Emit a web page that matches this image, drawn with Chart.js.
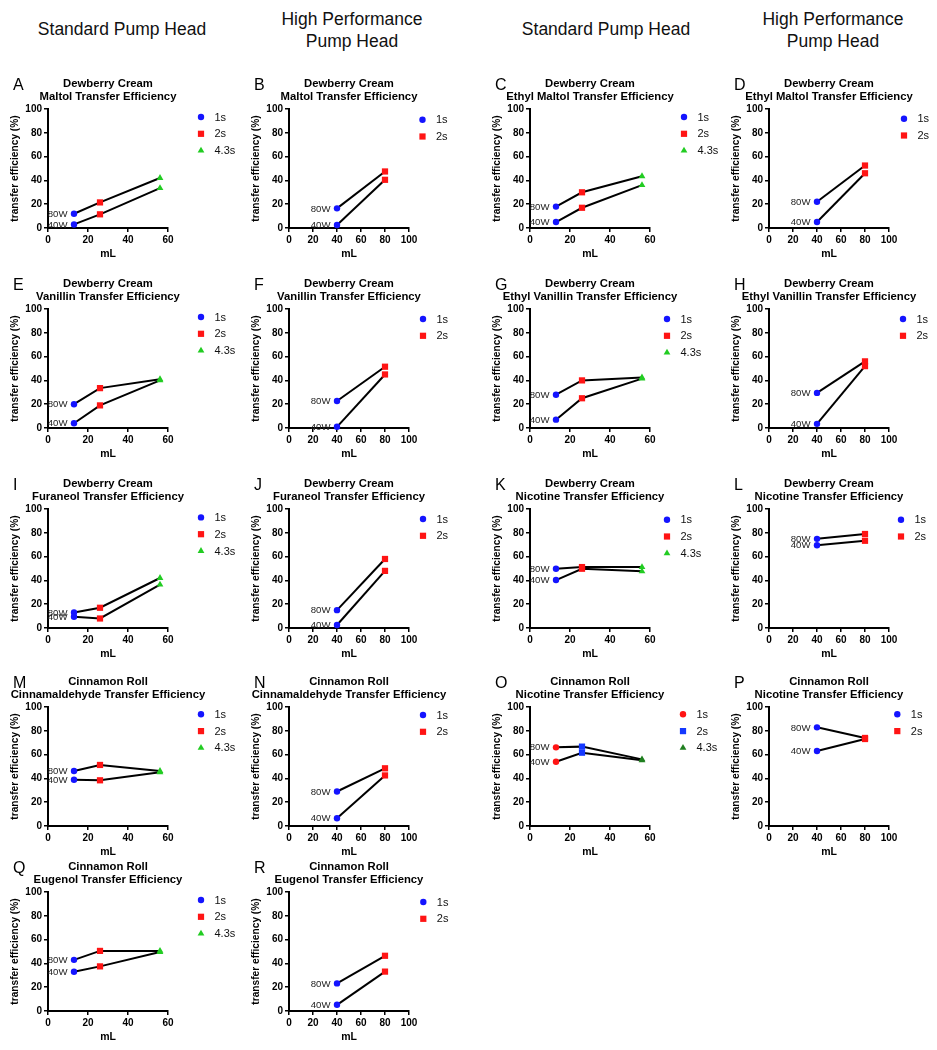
<!DOCTYPE html>
<html><head><meta charset="utf-8">
<script src="https://cdn.jsdelivr.net/npm/chart.js@4.4.1/dist/chart.umd.min.js"></script>
<style>
html,body{margin:0;padding:0;background:#fff;}
body{width:937px;height:1050px;overflow:hidden;position:relative;font-family:'Liberation Sans',Arial,sans-serif;}
.hdr{position:absolute;text-align:center;font-size:17.5px;line-height:22px;color:#111;width:240px;margin-left:-120px;}
canvas{position:absolute;}
</style></head><body>
<div class="hdr" style="left:122px;top:18px">Standard Pump Head</div>
<div class="hdr" style="left:352px;top:8px">High Performance<br>Pump Head</div>
<div class="hdr" style="left:606px;top:18px">Standard Pump Head</div>
<div class="hdr" style="left:833px;top:8px">High Performance<br>Pump Head</div>
<script>
// ---------- data ----------
const xStandard = [13, 26, 56];          // mL for 1s, 2s, 4.3s
const xHighPerf = [40, 80];              // mL for 1s, 2s
const seriesStandard = ['1s', '2s', '4.3s'];
const seriesHighPerf = ['1s', '2s'];
const powerLabels = ['80W', '40W'];
const yTicks = [0, 20, 40, 60, 80, 100];
const xTicksStandard = [0, 20, 40, 60];
const xTicksHighPerf = [0, 20, 40, 60, 80, 100];

const A_80W = [12, 21.5, 42];   const A_40W = [3, 11.5, 33.5];
const B_80W = [16.5, 47.5];     const B_40W = [2.5, 40.5];
const C_80W = [18, 30, 43.5];   const C_40W = [5, 17, 36];
const D_80W = [22, 52.5];       const D_40W = [5, 46];
const E_80W = [20, 33.5, 41];   const E_40W = [4, 19, 40];
const F_80W = [22.7, 51.5];     const F_40W = [1, 45];
const G_80W = [28, 40, 42.5];   const G_40W = [7, 25, 41.5];
const H_80W = [29.5, 56];       const H_40W = [3.5, 52];
const I_80W = [13, 17, 42];     const I_40W = [9.5, 8, 36.5];
const J_80W = [15, 58];         const J_40W = [2.5, 48];
const K_80W = [49.8, 51.2, 51.2]; const K_40W = [40.3, 49.8, 47.6];
const L_80W = [74.9, 79];       const L_40W = [69.6, 73.3];
const M_80W = [46.2, 51.3, 46.2]; const M_40W = [38.9, 38.4, 45.1];
const N_80W = [29, 48.5];       const N_40W = [6.5, 42.5];
const O_80W = [66.1, 66.7, 56]; const O_40W = [54, 61.6, 55.2];
const P_80W = [82.9, 74];       const P_40W = [63, 73.1];
const Q_80W = [43, 50.5, 50.5]; const Q_40W = [33, 37.5, 49.5];
const R_80W = [23.2, 46.4];     const R_40W = [5.2, 33.1];

const colorsMain = ['#1414ff', '#ff1414', '#22cc22'];
const colorsAlt = ['#ff1414', '#1438ff', '#1f7f1f'];

// ---------- layout ----------
const colX = [48, 289, 530, 769];
const panels = [
  {id:'A', c:0, top:109, std:true,  t1:'Dewberry Cream', t2:'Maltol Transfer Efficiency', v80:A_80W, v40:A_40W, col:colorsMain, lx:33, ly:8},
  {id:'B', c:1, top:109, std:false, t1:'Dewberry Cream', t2:'Maltol Transfer Efficiency', v80:B_80W, v40:B_40W, col:colorsMain, lx:13.5, ly:10.7},
  {id:'C', c:2, top:109, std:true,  t1:'Dewberry Cream', t2:'Ethyl Maltol Transfer Efficiency', v80:C_80W, v40:C_40W, col:colorsMain, lx:34, ly:8},
  {id:'D', c:3, top:109, std:false, t1:'Dewberry Cream', t2:'Ethyl Maltol Transfer Efficiency', v80:D_80W, v40:D_40W, col:colorsMain, lx:15, ly:9.7},
  {id:'E', c:0, top:309, std:true,  t1:'Dewberry Cream', t2:'Vanillin Transfer Efficiency', v80:E_80W, v40:E_40W, col:colorsMain, lx:33, ly:8},
  {id:'F', c:1, top:309, std:false, t1:'Dewberry Cream', t2:'Vanillin Transfer Efficiency', v80:F_80W, v40:F_40W, col:colorsMain, lx:14, ly:10},
  {id:'G', c:2, top:309, std:true,  t1:'Dewberry Cream', t2:'Ethyl Vanillin Transfer Efficiency', v80:G_80W, v40:G_40W, col:colorsMain, lx:17, ly:10},
  {id:'H', c:3, top:309, std:false, t1:'Dewberry Cream', t2:'Ethyl Vanillin Transfer Efficiency', v80:H_80W, v40:H_40W, col:colorsMain, lx:14, ly:10},
  {id:'I', c:0, top:509, std:true,  t1:'Dewberry Cream', t2:'Furaneol Transfer Efficiency', v80:I_80W, v40:I_40W, col:colorsMain, lx:33, ly:8.4},
  {id:'J', c:1, top:509, std:false, t1:'Dewberry Cream', t2:'Furaneol Transfer Efficiency', v80:J_80W, v40:J_40W, col:colorsMain, lx:14, ly:10},
  {id:'K', c:2, top:509, std:true,  t1:'Dewberry Cream', t2:'Nicotine Transfer Efficiency', v80:K_80W, v40:K_40W, col:colorsMain, lx:17, ly:10.7},
  {id:'L', c:3, top:509, std:false, t1:'Dewberry Cream', t2:'Nicotine Transfer Efficiency', v80:L_80W, v40:L_40W, col:colorsMain, lx:12, ly:10.7},
  {id:'M', c:0, top:707, std:true,  t1:'Cinnamon Roll', t2:'Cinnamaldehyde Transfer Efficiency', v80:M_80W, v40:M_40W, col:colorsMain, lx:33, ly:7.3},
  {id:'N', c:1, top:707, std:false, t1:'Cinnamon Roll', t2:'Cinnamaldehyde Transfer Efficiency', v80:N_80W, v40:N_40W, col:colorsMain, lx:14, ly:8},
  {id:'O', c:2, top:707, std:true,  t1:'Cinnamon Roll', t2:'Nicotine Transfer Efficiency', v80:O_80W, v40:O_40W, col:colorsAlt, lx:33, ly:7.3},
  {id:'P', c:3, top:707, std:false, t1:'Cinnamon Roll', t2:'Nicotine Transfer Efficiency', v80:P_80W, v40:P_40W, col:colorsMain, lx:8.3, ly:7.3},
  {id:'Q', c:0, top:892, std:true,  t1:'Cinnamon Roll', t2:'Eugenol Transfer Efficiency', v80:Q_80W, v40:Q_40W, col:colorsMain, lx:33, ly:8},
  {id:'R', c:1, top:892, std:false, t1:'Cinnamon Roll', t2:'Eugenol Transfer Efficiency', v80:R_80W, v40:R_40W, col:colorsMain, lx:14.3, ly:10}
];

const FONT = "'Liberation Sans', Arial, Helvetica, sans-serif";
Chart.defaults.font.family = FONT;
Chart.defaults.color = '#000';

const styles = ['circle', 'rect', 'triangle'];
const radii = [3.2, 4.4, 3.9];

function drawMarker(ctx, style, x, y, r, color) {
  ctx.save();
  ctx.fillStyle = color;
  ctx.beginPath();
  if (style === 'circle') {
    ctx.arc(x, y, r, 0, Math.PI * 2);
  } else if (style === 'rect') {
    const s = r * Math.SQRT1_2;
    ctx.rect(x - s, y - s, 2 * s, 2 * s);
  } else {
    let a = 0;
    ctx.moveTo(x + Math.sin(a) * r, y - Math.cos(a) * r);
    a += Math.PI * 2 / 3;
    ctx.lineTo(x + Math.sin(a) * r, y - Math.cos(a) * r);
    a += Math.PI * 2 / 3;
    ctx.lineTo(x + Math.sin(a) * r, y - Math.cos(a) * r);
    ctx.closePath();
  }
  ctx.fill();
  ctx.restore();
}

function decor(p, nSeries) {
  return {
    id: 'decor' + p.id,
    afterDraw(chart) {
      const ctx = chart.ctx, a = chart.chartArea;
      const cx = (a.left + a.right) / 2;
      ctx.save();
      // panel letter
      ctx.fillStyle = '#000';
      ctx.font = '16px ' + FONT;
      ctx.textAlign = 'left';
      ctx.textBaseline = 'alphabetic';
      ctx.fillText(p.id, a.left - 35, a.top - 19.5);
      // titles
      ctx.font = 'bold 11.3px ' + FONT;
      ctx.textAlign = 'center';
      ctx.textBaseline = 'middle';
      ctx.fillText(p.t1, cx, a.top - 25.5);
      ctx.fillText(p.t2, cx, a.top - 11.8);
      // legend
      const ds = chart.data.datasets;
      ctx.font = '11px ' + FONT;
      ctx.textAlign = 'left';
      for (let i = 0; i < nSeries; i++) {
        const lx = a.right + p.lx, ly = a.top + p.ly + i * 16.8;
        drawMarker(ctx, ds[i].pointStyle, lx, ly, ds[i].pointRadius, ds[i].backgroundColor);
        ctx.fillStyle = '#111';
        ctx.fillText(ds[i].label, lx + 13.5, ly + 0.5);
      }
      // power labels at first point of each line
      ctx.font = '9.6px ' + FONT;
      ctx.textAlign = 'right';
      ctx.fillStyle = '#222';
      for (let k = 0; k < 2; k++) {
        const el = chart.getDatasetMeta(nSeries + k).data[0];
        ctx.fillText(ds[nSeries + k].label, el.x - 6.5, el.y + 0.5);
      }
      ctx.restore();
    }
  };
}

function makePanel(p) {
  const W = 240, H = 215, L = 48, T = 52, PW = 120, PH = 119, XH = 35;
  const cv = document.createElement('canvas');
  cv.width = W; cv.height = H;
  cv.style.left = (colX[p.c] - L) + 'px';
  cv.style.top = (p.top - T) + 'px';
  cv.style.width = W + 'px'; cv.style.height = H + 'px';
  document.body.appendChild(cv);
  const xs = p.std ? xStandard : xHighPerf;
  const series = p.std ? seriesStandard : seriesHighPerf;
  const xt = p.std ? xTicksStandard : xTicksHighPerf;
  const pointSets = series.map((s, i) => ({
    label: s,
    data: [{x: xs[i], y: p.v80[i]}, {x: xs[i], y: p.v40[i]}],
    pointStyle: styles[i], pointRadius: radii[i], pointBorderWidth: 0,
    backgroundColor: p.col[i], borderColor: p.col[i],
    showLine: false, clip: false
  }));
  const lineSets = [p.v80, p.v40].map((v, k) => ({
    label: powerLabels[k],
    data: xs.map((x, i) => ({x: x, y: v[i]})),
    showLine: true, borderColor: '#000', borderWidth: 2, pointRadius: 0,
    backgroundColor: '#000', clip: false
  }));
  const axisCommon = {
    border: {display: true, color: '#000', width: 2},
    grid: {display: true, drawOnChartArea: false, drawTicks: true, tickLength: 4, color: '#000', lineWidth: 1.5},
    ticks: {color: '#000', font: {size: 10, weight: 'bold'}, autoSkip: false, maxRotation: 0}
  };
  new Chart(cv, {
    type: 'scatter',
    data: {datasets: [...pointSets, ...lineSets]},
    options: {
      responsive: false, animation: false, events: [],
      layout: {padding: {left: 0, top: T, right: W - L - PW, bottom: H - T - PH - XH}},
      plugins: {legend: {display: false}, tooltip: {enabled: false}},
      scales: {
        x: Object.assign({}, axisCommon, {
          type: 'linear', min: 0, max: xt[xt.length - 1],
          afterBuildTicks: s => { s.ticks = xt.map(v => ({value: v})); },
          afterFit: s => { s.height = XH; },
          ticks: Object.assign({}, axisCommon.ticks, {padding: 2}),
          title: {display: true, text: 'mL', color: '#000', font: {size: 10.5, weight: 'bold'}, padding: {top: 0, bottom: 3}}
        }),
        y: Object.assign({}, axisCommon, {
          type: 'linear', min: 0, max: 100,
          afterBuildTicks: s => { s.ticks = yTicks.map(v => ({value: v})); },
          afterFit: s => { s.width = L; },
          ticks: Object.assign({}, axisCommon.ticks, {padding: 2}),
          title: {display: true, text: 'transfer efficiency (%)', color: '#000', font: {size: 10.2, weight: 'bold'}, padding: {top: 9, bottom: 0}}
        })
      }
    },
    plugins: [decor(p, series.length)]
  });
}
panels.forEach(makePanel);
</script>
</body></html>
